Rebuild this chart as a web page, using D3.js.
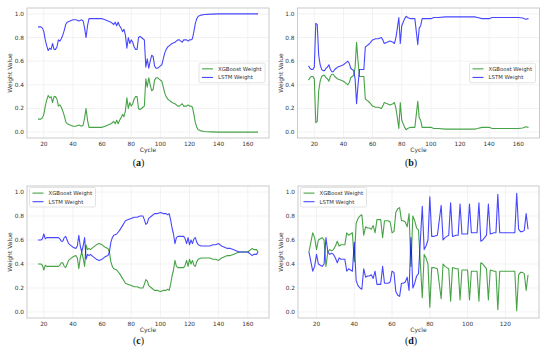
<!DOCTYPE html>
<html>
<head>
<meta charset="utf-8">
<script src="https://cdn.jsdelivr.net/npm/d3@7"></script>
<style>
  body { margin: 0; background: #fff; }
  svg { display: block; font-family: "DejaVu Sans", sans-serif; }
</style>
</head>
<body>
<svg id="chart" width="550" height="352"></svg>
<script>
// ─── DATA ──────────────────────────────────────────────────────────────────

const seriesNames = ["XGBoost Weight", "LSTM Weight"];
const yTicks = [0, 0.2, 0.4, 0.6, 0.8, 1.0];
const xTicksLong = [20, 40, 60, 80, 100, 120, 140, 160];
const xTicksShort = [20, 40, 60, 80, 100, 120];

// (a)
const cyclesA = [16,18,19,20,21,22,23,24,25,26,
  27,28,29,30,31,32,33,34,35,36,
  38,40,42,44,46,47,48,49,50,51,
  52,56,60,62,64,66,68,69,70,71,
  72,73,74,75,76,77,78,79,80,81,
  82,83,84,85,86,87,88,89,90,91,
  92,93,94,95,96,97,98,99,100,101,
  102,103,104,105,106,108,110,112,113,114,
  115,116,118,119,120,121,122,123,124,125,
  126,128,130,135,140,150,160,167];
const xgbA = [0.11,0.11,0.12,0.15,0.22,0.27,0.31,0.29,0.30,0.25,
  0.30,0.30,0.28,0.22,0.23,0.21,0.18,0.14,0.09,0.07,
  0.06,0.05,0.05,0.06,0.05,0.06,0.12,0.20,0.10,0.04,
  0.04,0.04,0.04,0.05,0.06,0.07,0.09,0.07,0.10,0.07,
  0.10,0.12,0.15,0.13,0.18,0.29,0.20,0.25,0.22,0.24,
  0.28,0.30,0.30,0.20,0.19,0.20,0.21,0.22,0.45,0.38,
  0.46,0.40,0.35,0.36,0.44,0.46,0.46,0.45,0.44,0.43,
  0.38,0.33,0.30,0.28,0.27,0.25,0.24,0.22,0.22,0.23,
  0.24,0.22,0.22,0.23,0.22,0.22,0.21,0.15,0.08,0.04,
  0.02,0.01,0.005,0.002,0,0,0,0];
const lstmA = [0.89,0.89,0.88,0.85,0.78,0.73,0.69,0.71,0.70,0.75,
  0.70,0.70,0.72,0.78,0.77,0.79,0.82,0.86,0.91,0.93,
  0.94,0.95,0.95,0.94,0.95,0.94,0.88,0.80,0.90,0.96,
  0.96,0.96,0.96,0.95,0.94,0.93,0.91,0.93,0.90,0.93,
  0.90,0.88,0.85,0.87,0.82,0.71,0.80,0.75,0.78,0.76,
  0.72,0.70,0.70,0.80,0.81,0.80,0.79,0.78,0.55,0.62,
  0.54,0.60,0.65,0.64,0.56,0.54,0.54,0.55,0.56,0.57,
  0.62,0.67,0.70,0.72,0.73,0.75,0.76,0.78,0.78,0.77,
  0.76,0.78,0.78,0.77,0.78,0.78,0.79,0.85,0.92,0.96,
  0.98,0.99,0.995,0.998,1,1,1,1];

// (b)
const cyclesB = [16,17,18,19,20,21,22,23,24,25,
  26,27,28,29,30,31,32,33,34,35,
  36,38,40,42,43,44,45,46,47,48,
  49,50,51,52,54,55,56,58,60,62,
  64,66,67,68,70,72,74,75,76,77,
  78,79,80,81,82,83,84,86,88,89,
  90,91,92,93,94,96,100,102,105,110,
  120,130,132,135,140,142,150,160,163,165,
  167];
const xgbB = [0.44,0.46,0.47,0.47,0.45,0.08,0.09,0.35,0.43,0.47,
  0.48,0.48,0.46,0.45,0.43,0.47,0.49,0.49,0.47,0.46,
  0.45,0.44,0.43,0.41,0.40,0.42,0.46,0.47,0.48,0.55,
  0.76,0.60,0.47,0.47,0.47,0.28,0.27,0.25,0.22,0.21,
  0.21,0.20,0.22,0.25,0.24,0.23,0.24,0.25,0.20,0.12,
  0.03,0.25,0.10,0.07,0.04,0.02,0.03,0.04,0.04,0.04,
  0.15,0.26,0.12,0.10,0.04,0.04,0.04,0.03,0.03,0.025,
  0.025,0.025,0.03,0.04,0.04,0.03,0.03,0.03,0.035,0.045,
  0.04];
const lstmB = [0.56,0.54,0.53,0.53,0.55,0.92,0.91,0.65,0.57,0.53,
  0.52,0.52,0.54,0.55,0.57,0.53,0.51,0.51,0.53,0.54,
  0.55,0.56,0.57,0.59,0.60,0.58,0.54,0.53,0.52,0.45,
  0.24,0.40,0.53,0.53,0.53,0.72,0.73,0.75,0.78,0.79,
  0.79,0.80,0.78,0.75,0.76,0.77,0.76,0.75,0.80,0.88,
  0.97,0.75,0.90,0.93,0.96,0.98,0.97,0.96,0.96,0.96,
  0.85,0.74,0.88,0.90,0.96,0.96,0.96,0.97,0.97,0.975,
  0.975,0.975,0.97,0.96,0.96,0.97,0.97,0.97,0.965,0.955,
  0.96];

// (c)
const cyclesC = [16,18,19,20,21,22,24,26,28,30,
  31,32,33,34,35,36,37,38,40,42,
  43,44,45,46,47,48,49,50,51,52,
  54,56,58,60,62,64,65,66,67,68,
  70,72,74,75,76,78,80,82,84,86,
  88,89,90,91,92,94,96,98,100,102,
  104,105,106,107,108,109,110,111,112,114,
  116,117,118,119,120,121,122,123,124,125,
  126,128,130,132,134,136,138,140,142,144,
  146,148,150,152,154,156,158,160,162,163,
  164,166,167];
const xgbC = [0.40,0.40,0.39,0.35,0.39,0.38,0.38,0.38,0.38,0.38,
  0.39,0.41,0.41,0.38,0.37,0.40,0.43,0.44,0.46,0.47,
  0.45,0.36,0.45,0.50,0.45,0.38,0.56,0.52,0.53,0.52,
  0.54,0.56,0.57,0.56,0.54,0.53,0.50,0.42,0.38,0.36,
  0.35,0.32,0.28,0.26,0.24,0.23,0.22,0.21,0.21,0.20,
  0.20,0.23,0.27,0.26,0.22,0.20,0.18,0.18,0.17,0.18,
  0.18,0.19,0.18,0.23,0.30,0.35,0.43,0.38,0.37,0.37,
  0.37,0.39,0.43,0.38,0.44,0.40,0.43,0.39,0.38,0.42,
  0.44,0.45,0.45,0.45,0.45,0.44,0.44,0.43,0.45,0.46,
  0.47,0.47,0.48,0.49,0.50,0.50,0.50,0.50,0.52,0.53,
  0.52,0.52,0.50];
const lstmC = [0.60,0.60,0.61,0.65,0.61,0.62,0.62,0.62,0.62,0.62,
  0.61,0.59,0.59,0.62,0.63,0.60,0.57,0.56,0.54,0.53,
  0.55,0.64,0.55,0.50,0.55,0.62,0.44,0.48,0.47,0.48,
  0.46,0.44,0.43,0.44,0.46,0.47,0.50,0.58,0.62,0.64,
  0.65,0.68,0.72,0.74,0.76,0.77,0.78,0.79,0.79,0.80,
  0.80,0.77,0.73,0.74,0.78,0.80,0.82,0.82,0.83,0.82,
  0.82,0.81,0.82,0.77,0.70,0.65,0.57,0.62,0.63,0.63,
  0.63,0.61,0.57,0.62,0.56,0.60,0.57,0.61,0.62,0.58,
  0.56,0.55,0.55,0.55,0.55,0.56,0.56,0.57,0.55,0.54,
  0.53,0.53,0.52,0.51,0.50,0.50,0.50,0.50,0.48,0.47,
  0.48,0.48,0.50];

// (d)
const cyclesD = [16,17,18,19,20,21,22,23,24,25,
  26,27,28,29,30,31,32,33,34,35,
  36,37,38,39,40,41,42,43,44,45,
  46,47,48,49,50,51,52,53,54,55,
  56,57,58,59,60,61,62,63,64,65,
  66,67,68,69,70,71,72,73,74,76,
  77,78,79,80,81,82,84,86,87,88,
  89,90,91,92,94,95,96,97,99,100,
  101,102,104,105,106,107,108,109,110,111,
  112,114,115,116,117,120,122,124,125,126,
  127,128,129,130,131,132];
const xgbD = [0.50,0.58,0.66,0.62,0.52,0.60,0.61,0.62,0.60,0.38,
  0.50,0.52,0.51,0.52,0.55,0.59,0.55,0.56,0.56,0.56,
  0.66,0.64,0.65,0.66,0.42,0.74,0.78,0.80,0.81,0.64,
  0.71,0.70,0.70,0.69,0.72,0.66,0.77,0.77,0.77,0.62,
  0.76,0.76,0.76,0.75,0.66,0.67,0.83,0.86,0.87,0.76,
  0.76,0.75,0.71,0.82,0.38,0.80,0.76,0.70,0.68,0.12,
  0.48,0.45,0.40,0.04,0.37,0.37,0.36,0.11,0.40,0.38,
  0.37,0.36,0.09,0.37,0.36,0.36,0.10,0.35,0.35,0.35,
  0.10,0.34,0.34,0.34,0.09,0.41,0.40,0.38,0.36,0.10,
  0.35,0.34,0.34,0.02,0.34,0.34,0.34,0.34,0.34,0.01,
  0.31,0.33,0.33,0.32,0.18,0.31];
const lstmD = [0.50,0.42,0.34,0.38,0.48,0.40,0.39,0.38,0.40,0.62,
  0.50,0.48,0.49,0.48,0.45,0.41,0.45,0.44,0.44,0.44,
  0.34,0.36,0.35,0.34,0.58,0.26,0.22,0.20,0.19,0.36,
  0.29,0.30,0.30,0.31,0.28,0.34,0.23,0.23,0.23,0.38,
  0.24,0.24,0.24,0.25,0.34,0.33,0.17,0.14,0.13,0.24,
  0.24,0.25,0.29,0.18,0.62,0.20,0.24,0.30,0.32,0.88,
  0.52,0.55,0.60,0.96,0.63,0.63,0.64,0.89,0.60,0.62,
  0.63,0.64,0.91,0.63,0.64,0.64,0.90,0.65,0.65,0.65,
  0.90,0.66,0.66,0.66,0.91,0.59,0.60,0.62,0.64,0.90,
  0.65,0.66,0.66,0.98,0.66,0.66,0.66,0.66,0.66,0.99,
  0.69,0.67,0.67,0.68,0.82,0.69];

// ─── LAYOUT ────────────────────────────────────────────────────────────────

const colors = ["#008000", "#0000ff"];

const panels = [
  { tag: "(a)", x: 27, y: 8, w: 242, h: 130, cycles: cyclesA, series: [xgbA, lstmA], ticks: xTicksLong, legend: "right", labelX: 138.5, cycleY: 152, tagY: 166 },
  { tag: "(b)", x: 297.5, y: 8, w: 242, h: 130, cycles: cyclesB, series: [xgbB, lstmB], ticks: xTicksLong, legend: "right", labelX: 411, cycleY: 152, tagY: 166 },
  { tag: "(c)", x: 27, y: 186, w: 242, h: 132, cycles: cyclesC, series: [xgbC, lstmC], ticks: xTicksLong, legend: "left", labelX: 138.5, cycleY: 331.5, tagY: 343.5 },
  { tag: "(d)", x: 298, y: 186, w: 241, h: 132, cycles: cyclesD, series: [xgbD, lstmD], ticks: xTicksShort, legend: "left", labelX: 411, cycleY: 331.5, tagY: 343.5 },
];

const svg = d3.select("#chart");

function drawPanel(p) {
  const g = svg.append("g").attr("transform", `translate(${p.x},${p.y})`);

  // matplotlib-like 5% margins
  const [x0, x1] = d3.extent(p.cycles);
  const pad = (x1 - x0) * 0.05;
  const x = d3.scaleLinear().domain([x0 - pad, x1 + pad]).range([0, p.w]);
  const y = d3.scaleLinear().domain([-0.05, 1.05]).range([p.h, 0]);

  // grid
  g.append("g")
    .selectAll("line.vx")
    .data(p.ticks)
    .join("line")
    .attr("x1", (d) => x(d)).attr("x2", (d) => x(d))
    .attr("y1", 0).attr("y2", p.h)
    .attr("stroke", "#e4e4e4").attr("stroke-width", 0.5);
  g.append("g")
    .selectAll("line.hy")
    .data(yTicks)
    .join("line")
    .attr("x1", 0).attr("x2", p.w)
    .attr("y1", (d) => y(d)).attr("y2", (d) => y(d))
    .attr("stroke", "#e4e4e4").attr("stroke-width", 0.5);

  // tick labels
  g.append("g")
    .selectAll("text")
    .data(p.ticks)
    .join("text")
    .attr("x", (d) => x(d))
    .attr("y", p.h + 7.8)
    .attr("text-anchor", "middle")
    .attr("font-size", 5.8)
    .attr("fill", "#333")
    .text((d) => d);
  g.append("g")
    .selectAll("text")
    .data(yTicks)
    .join("text")
    .attr("x", -3)
    .attr("y", (d) => y(d))
    .attr("dy", "0.35em")
    .attr("text-anchor", "end")
    .attr("font-size", 5.8)
    .attr("fill", "#333")
    .text(d3.format(".1f"));

  // lines
  const line = d3.line().x((d) => x(d[0])).y((d) => y(d[1]));
  p.series.forEach((vals, k) => {
    const pts = p.cycles.map((c, i) => [c, vals[i]]).filter((d) => d[1] != null);
    g.append("path")
      .datum(pts)
      .attr("d", line)
      .attr("fill", "none")
      .attr("stroke", colors[k])
      .attr("stroke-opacity", 0.72)
      .attr("stroke-width", 1.1)
      .attr("stroke-linejoin", "round");
  });

  // frame
  g.append("rect")
    .attr("width", p.w).attr("height", p.h)
    .attr("fill", "none")
    .attr("stroke", "#bdbdbd")
    .attr("stroke-width", 0.8);

  // axis titles
  svg.append("text")
    .attr("x", p.x + p.w / 2)
    .attr("y", p.cycleY)
    .attr("text-anchor", "middle")
    .attr("font-size", 6)
    .attr("fill", "#333")
    .text("Cycle");
  g.append("text")
    .attr("transform", `translate(-15,${p.h / 2}) rotate(-90)`)
    .attr("text-anchor", "middle")
    .attr("font-size", 6)
    .attr("fill", "#333")
    .text("Weight Value");

  // legend
  const lw = 66, lh = 19.5;
  const lx = p.legend === "right" ? p.w - 4 - lw : 2.5;
  const ly = p.legend === "right" ? p.h / 2 - lh / 2 : 1.5;
  const leg = g.append("g").attr("transform", `translate(${lx},${ly})`);
  leg.append("rect")
    .attr("width", lw).attr("height", lh).attr("rx", 1.5)
    .attr("fill", "#fff").attr("fill-opacity", 0.85)
    .attr("stroke", "#d0d0d0").attr("stroke-width", 0.6);
  seriesNames.forEach((name, k) => {
    const yy = 5.6 + k * 8.6;
    leg.append("line")
      .attr("x1", 3).attr("x2", 14).attr("y1", yy).attr("y2", yy)
      .attr("stroke", colors[k]).attr("stroke-opacity", 0.72).attr("stroke-width", 1.1);
    leg.append("text")
      .attr("x", 19).attr("y", yy).attr("dy", "0.35em")
      .attr("font-size", 5.4).attr("fill", "#333")
      .text(name);
  });

  // panel tag
  const tag = svg.append("text")
    .attr("x", p.labelX)
    .attr("y", p.tagY)
    .attr("text-anchor", "middle")
    .attr("font-family", "'Liberation Serif', 'DejaVu Serif', serif")
    .attr("font-size", 10)
    .attr("fill", "#111");
  tag.append("tspan").text("(");
  tag.append("tspan").attr("font-weight", "bold").text(p.tag.slice(1, -1));
  tag.append("tspan").text(")");
}

panels.forEach(drawPanel);
</script>
</body>
</html>
